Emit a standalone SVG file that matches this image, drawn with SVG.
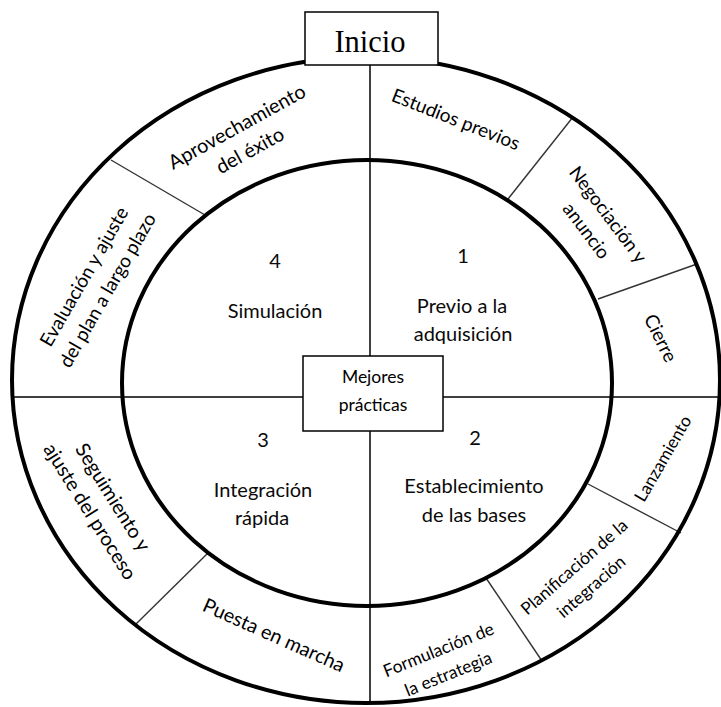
<svg xmlns="http://www.w3.org/2000/svg" width="721" height="707" viewBox="0 0 721 707">
<style>
.ring{fill:none;stroke:#000;stroke-width:4}
.div{stroke:#333;stroke-width:1.4}
.axis{stroke:#000;stroke-width:1.5}
.box{fill:#fff;stroke:#000;stroke-width:1.5}
.t{font-family:Lato,"Open Sans",sans-serif;font-size:19px;fill:#000;text-anchor:middle}
.c{font-family:Lato,"Open Sans",sans-serif;font-size:20px;fill:#0a0a0a;text-anchor:middle}
.m{font-family:Lato,"Open Sans",sans-serif;font-size:17.5px;fill:#000;text-anchor:middle}
.s{font-family:"Liberation Serif","Times New Roman",serif;font-size:30.5px;fill:#000;text-anchor:middle}
</style>
<rect width="721" height="707" fill="#fff"/>
<g id="connectors">
<line class="axis" x1="370" y1="60" x2="370" y2="704"/>
<line class="axis" x1="11" y1="397" x2="720" y2="397"/>
<line class="div" x1="111" y1="160" x2="205" y2="215"/>
<line class="div" x1="573" y1="117" x2="508" y2="199"/>
<line class="div" x1="697" y1="264" x2="598" y2="299"/>
<line class="div" x1="588" y1="484" x2="681" y2="533"/>
<line class="div" x1="486" y1="578" x2="542" y2="661"/>
<line class="div" x1="209" y1="552" x2="136" y2="624"/>
</g>
<g id="rings">
<ellipse class="ring" cx="366" cy="380" rx="354" ry="323"/>
<ellipse class="ring" cx="367" cy="383" rx="245" ry="223"/>
</g>
<g id="inicio">
<rect class="box" x="305" y="12" width="133" height="53"/>
<text class="s" x="370" y="52">Inicio</text>
</g>
<g id="mejores">
<rect class="box" x="303" y="356" width="140" height="75"/>
<text class="m" x="373" y="383">Mejores</text>
<text class="m" x="373" y="411">prácticas</text>
</g>
<g id="fase1">
<text class="c" x="463" y="263">1</text>
<text class="c" x="462" y="313">Previo a la</text>
<text class="c" x="463" y="341">adquisición</text>
</g>
<g id="fase2">
<text class="c" x="475" y="445">2</text>
<text class="c" x="474" y="493">Establecimiento</text>
<text class="c" x="474" y="522">de las bases</text>
</g>
<g id="fase3">
<text class="c" x="263" y="447">3</text>
<text class="c" x="263" y="497">Integración</text>
<text class="c" x="262" y="525">rápida</text>
</g>
<g id="fase4">
<text class="c" x="275" y="268">4</text>
<text class="c" x="275" y="318">Simulación</text>
</g>
<g id="aprovechamiento" transform="translate(243,138) rotate(-29)">
<text class="t" y="-6" style="font-size:19.8px">Aprovechamiento</text>
<text class="t" y="21" style="font-size:19.8px">del éxito</text>
</g>
<g id="estudios" transform="translate(456,119) rotate(21.5)">
<text class="t" y="7">Estudios previos</text>
</g>
<g id="negociacion" transform="translate(598,222) rotate(53)">
<text class="t" y="-6" style="font-size:18.7px">Negociación y</text>
<text class="t" y="21" style="font-size:18.7px">anuncio</text>
</g>
<g id="cierre" transform="translate(661,338) rotate(64)">
<text class="t" y="7" style="font-size:19px">Cierre</text>
</g>
<g id="lanzamiento" transform="translate(662,458) rotate(-60)">
<text class="t" y="7" style="font-size:17.2px">Lanzamiento</text>
</g>
<g id="planificacion" transform="translate(582,576) rotate(-41)">
<text class="t" y="-6" style="font-size:17.2px">Planificación de la</text>
<text class="t" y="20" style="font-size:17.2px">integración</text>
</g>
<g id="formulacion" transform="translate(443,661) rotate(-22)">
<text class="t" y="-6" style="font-size:17.4px">Formulación de</text>
<text class="t" y="20" style="font-size:17.4px">la estrategia</text>
</g>
<g id="puesta" transform="translate(274,635) rotate(24)">
<text class="t" y="7" style="font-size:19.7px">Puesta en marcha</text>
</g>
<g id="seguimiento" transform="translate(102,504) rotate(58)">
<text class="t" y="-6" style="font-size:19.8px">Seguimiento y</text>
<text class="t" y="21" style="font-size:19.8px">ajuste del proceso</text>
</g>
<g id="evaluacion" transform="translate(95,283) rotate(-60)">
<text class="t" y="-6">Evaluación y ajuste</text>
<text class="t" y="21">del plan a largo plazo</text>
</g>
</svg>
